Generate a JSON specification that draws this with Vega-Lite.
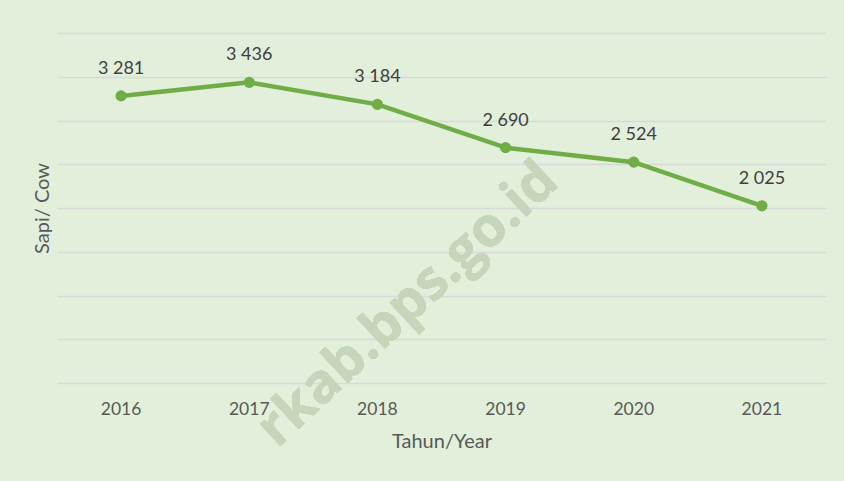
{
  "$schema": "https://vega.github.io/schema/vega-lite/v6.json",
  "width": 769,
  "height": 350,
  "autosize": {"type": "none"},
  "padding": {"left": 57, "top": 33, "right": 18, "bottom": 98},
  "background": "#e2efda",
  "config": {
    "locale": {"number": {"decimal": ",", "thousands": " ", "grouping": [3], "currency": ["", ""]}},
    "view": {"stroke": null},
    "font": "Lato"
  },
  "data": {
    "values": [
      {"year": "2016", "cow": 3281},
      {"year": "2017", "cow": 3436},
      {"year": "2018", "cow": 3184},
      {"year": "2019", "cow": 2690},
      {"year": "2020", "cow": 2524},
      {"year": "2021", "cow": 2025}
    ]
  },
  "encoding": {
    "x": {
      "field": "year", "type": "nominal",
      "scale": {"type": "band", "paddingInner": 0, "paddingOuter": 0},
      "axis": {
        "title": "Tahun/Year", "labelAngle": 0, "ticks": false, "domain": false,
        "labelFont": "Lato", "labelFontSize": 17.5, "labelColor": "#595959", "labelPadding": 17,
        "titleFont": "Lato", "titleFontSize": 20, "titleFontWeight": "normal", "titleColor": "#595959", "titlePadding": 14
      }
    },
    "y": {
      "field": "cow", "type": "quantitative",
      "scale": {"domain": [0, 4000], "nice": false, "zero": true},
      "axis": {
        "title": "Sapi/ Cow", "labels": false, "ticks": false, "domain": false,
        "values": [0, 500, 1000, 1500, 2000, 2500, 3000, 3500, 4000],
        "gridColor": "#d9d9d9", "gridWidth": 1.5,
        "titleFont": "Lato", "titleFontSize": 20, "titleFontWeight": "normal", "titleColor": "#595959", "titlePadding": 5
      }
    }
  },
  "layer": [
    {
      "mark": {"type": "text", "text": "rkab.bps.go.id", "angle": -43, "fontSize": 55, "fontWeight": "bold", "font": "Open Sans", "color": "#c5d6bb", "align": "center", "baseline": "middle", "xOffset": 30},
      "encoding": {"x": {"datum": "2018"}, "y": {"datum": 900}}
    },
    {
      "mark": {"type": "line", "color": "#70ad47", "strokeWidth": 4.5}
    },
    {
      "mark": {"type": "circle", "color": "#70ad47", "size": 125, "opacity": 1}
    },
    {
      "mark": {"type": "text", "dy": -27, "fontSize": 18, "color": "#404040", "font": "Lato"},
      "encoding": {"text": {"field": "cow", "type": "quantitative", "format": ",d"}}
    }
  ]
}
